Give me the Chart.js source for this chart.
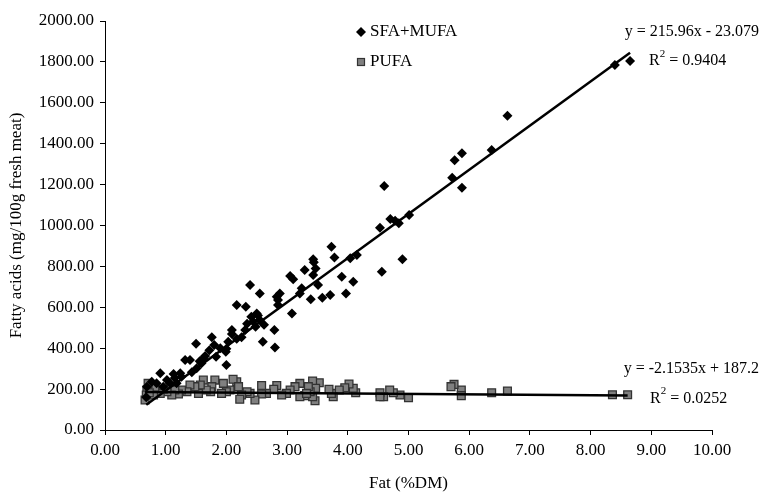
<!DOCTYPE html>
<html>
<head>
<meta charset="utf-8">
<script src="https://cdn.jsdelivr.net/npm/chart.js@4/dist/chart.umd.min.js"></script>
<style>
  body { margin: 0; background: #fff; }
  #wrap { width: 762px; height: 497px; }
</style>
</head>
<body>
<div id="wrap"><canvas id="myChart"></canvas></div>
<script>
// SFA+MUFA points (fat %DM, mg/100g)
var sfaX = [8.40, 8.65, 6.63, 6.37, 5.88, 5.76, 5.72, 5.88, 4.60, 5.01, 4.70, 4.84, 4.78, 4.53, 3.73, 3.78, 4.04, 4.15, 3.43, 4.90,
            4.56, 3.44, 3.29, 3.43, 3.24, 3.51, 3.90, 4.09, 3.97, 3.71, 3.58, 3.39, 3.47, 3.05, 3.10, 3.08, 2.88, 2.83, 2.85, 2.85,
            2.79, 2.80, 2.60, 2.55, 2.39, 2.50, 2.55, 2.44, 2.34, 2.41, 2.31, 2.17, 2.32, 2.25, 2.17, 2.09, 2.09, 2.00, 2.03, 2.00,
            1.99, 1.83, 1.80, 1.76, 1.65, 1.62, 1.59, 1.56, 1.50, 1.51, 1.40, 1.32, 1.43, 1.24, 1.13, 1.15, 1.02, 0.91, 0.85, 0.77,
            0.69, 0.68, 1.18, 1.26, 1.07, 0.96, 3.21, 2.48, 2.52, 2.62, 1.72, 1.90];
var sfaY = [1785, 1804, 1537, 1369, 1353, 1319, 1234, 1185, 1193, 1051, 1032, 1011, 1023, 989, 896, 844, 840, 856, 835, 835,
            774, 820, 782, 758, 693, 709, 750, 725, 668, 660, 647, 639, 790, 753, 737, 570, 668, 652, 636, 611,
            489, 404, 432, 668, 709, 570, 538, 530, 520, 554, 489, 611, 603, 454, 446, 489, 470, 397, 432, 318,
            383, 358, 416, 453, 362, 351, 326, 336, 422, 302, 342, 342, 283, 277, 274, 254, 244, 277, 228, 236,
            212, 160, 228, 261, 228, 212, 668, 505, 560, 515, 390, 400];

// PUFA points
var pufaX = [8.36, 8.61, 6.63, 6.37, 5.87, 5.87, 5.75, 5.70, 5.00, 4.86, 4.75, 4.69, 4.59, 4.53, 4.53, 4.13, 4.09, 4.02, 3.95, 3.86,
             3.76, 3.73, 3.69, 3.53, 3.42, 3.47, 3.46, 3.42, 3.29, 3.21, 3.38, 3.35, 3.32, 3.21, 3.13, 3.05, 2.99, 2.91, 2.83, 2.78,
             2.66, 2.58, 2.58, 2.47, 2.39, 2.34, 2.25, 2.22, 2.17, 2.11, 2.20, 2.06, 2.00, 1.95, 1.92, 1.81, 1.76, 1.74, 1.67, 1.62,
             1.57, 1.54, 1.48, 1.40, 1.35, 1.26, 1.21, 1.15, 1.10, 1.02, 0.96, 0.91, 0.82, 0.80, 0.71, 0.69, 0.68, 0.66, 0.73];
var pufaY = [172, 172, 191, 182, 196, 168, 223, 212, 158, 171, 182, 196, 163, 182, 163, 182, 204, 225, 207, 196,
             163, 179, 199, 231, 240, 204, 143, 163, 168, 163, 187, 212, 179, 228, 212, 196, 179, 171, 218, 199,
             179, 218, 176, 147, 179, 187, 171, 150, 236, 248, 212, 196, 187, 228, 179, 244, 212, 187, 196, 244,
             220, 179, 212, 220, 187, 196, 176, 196, 171, 187, 199, 179, 204, 171, 228, 196, 171, 147, 182];

// trend lines as printed on the chart
var sfaFit = { slope: 215.96, icept: -23.079, label: 'y = 215.96x - 23.079', r2: '0.9404' };
var pufaFit = { slope: -2.1535, icept: 187.2, label: 'y = -2.1535x + 187.2', r2: '0.0252' };

function pts(xs, ys) {
  return xs.map(function (x, i) { return { x: x, y: ys[i] }; });
}
function fitLine(fit, xs) {
  var lo = Math.min.apply(null, xs), hi = Math.max.apply(null, xs);
  return [{ x: lo, y: fit.slope * lo + fit.icept }, { x: hi, y: fit.slope * hi + fit.icept }];
}

var serif = "'Liberation Serif', 'DejaVu Serif', serif";

function drawR2(ctx, x, y, val) {
  ctx.textAlign = 'left';
  ctx.font = '16px ' + serif;
  ctx.fillText('R', x, y);
  var w = ctx.measureText('R').width;
  ctx.font = '11px ' + serif;
  ctx.fillText('2', x + w, y - 7);
  var w2 = ctx.measureText('2').width;
  ctx.font = '16px ' + serif;
  ctx.fillText(' = ' + val, x + w + w2, y);
}

var annotations = {
  id: 'annotations',
  afterDraw: function (chart) {
    var ctx = chart.ctx, a = chart.chartArea, ys = chart.scales.y;
    ctx.save();
    ctx.fillStyle = '#000';
    ctx.textBaseline = 'middle';
    ctx.font = '16px ' + serif;
    ctx.textAlign = 'right';
    ctx.fillText(sfaFit.label, a.right + 47, a.top + 11);
    drawR2(ctx, a.right - 63, a.top + 40, sfaFit.r2);
    ctx.textAlign = 'right';
    ctx.font = '16px ' + serif;
    ctx.fillText(pufaFit.label, a.right + 47, ys.getPixelForValue(300));
    drawR2(ctx, a.right - 62, ys.getPixelForValue(155), pufaFit.r2);

    // legend
    var lx = a.left + 256, l1 = a.top + 11, l2 = a.top + 41;
    ctx.fillStyle = '#000';
    ctx.beginPath();
    ctx.moveTo(lx, l1 - 5); ctx.lineTo(lx + 5, l1); ctx.lineTo(lx, l1 + 5); ctx.lineTo(lx - 5, l1);
    ctx.closePath(); ctx.fill();
    ctx.fillStyle = '#808080';
    ctx.strokeStyle = '#333';
    ctx.lineWidth = 1.2;
    ctx.fillRect(lx - 3.5, l2 - 3.5, 7, 7);
    ctx.strokeRect(lx - 3.5, l2 - 3.5, 7, 7);
    ctx.fillStyle = '#000';
    ctx.textAlign = 'left';
    ctx.font = '17px ' + serif;
    ctx.fillText('SFA+MUFA', lx + 9, l1);
    ctx.fillText('PUFA', lx + 9, l2);
    ctx.restore();
  }
};

var ctx = document.getElementById('myChart').getContext('2d');
var chartData = {
  type: 'scatter',
  data: {
    datasets: [{
      label: 'SFA+MUFA trend',
      type: 'line',
      data: fitLine(sfaFit, sfaX),
      borderColor: '#000',
      borderWidth: 2.5,
      pointRadius: 0,
      fill: false
    }, {
      label: 'PUFA trend',
      type: 'line',
      data: fitLine(pufaFit, pufaX),
      borderColor: '#000',
      borderWidth: 2.5,
      pointRadius: 0,
      fill: false
    }, {
      label: 'SFA+MUFA',
      data: pts(sfaX, sfaY),
      pointStyle: 'rectRot',
      pointRadius: 5,
      backgroundColor: '#000',
      borderColor: '#000',
      borderWidth: 0
    }, {
      label: 'PUFA',
      data: pts(pufaX, pufaY),
      pointStyle: 'rect',
      pointRadius: 5.5,
      backgroundColor: '#808080',
      borderColor: '#333',
      borderWidth: 1.3
    }]
  },
  options: {
    responsive: true,
    maintainAspectRatio: false,
    animation: false,
    layout: { padding: { top: 21, right: 50, bottom: 0, left: 0 } },
    plugins: {
      legend: { display: false },
      tooltip: { enabled: false }
    },
    scales: {
      x: {
        type: 'linear',
        min: 0, max: 10,
        afterFit: function (s) { s.height = 67; },
        border: { color: '#000', width: 1 },
        grid: { drawOnChartArea: false, drawTicks: true, tickLength: 5, color: '#000' },
        ticks: {
          stepSize: 1, color: '#000', padding: 5,
          font: { family: serif, size: 17 },
          callback: function (v) { return v.toFixed(2); }
        },
        title: { display: true, text: 'Fat (%DM)', color: '#000', font: { family: serif, size: 17 }, padding: { top: 0, bottom: 3 } }
      },
      y: {
        min: 0, max: 2000,
        afterFit: function (s) { s.width = 105; },
        border: { color: '#000', width: 1 },
        grid: { drawOnChartArea: false, drawTicks: true, tickLength: 5, color: '#000' },
        ticks: {
          stepSize: 200, color: '#000', padding: 6,
          font: { family: serif, size: 17 },
          callback: function (v) { return v.toFixed(2); }
        },
        title: { display: true, text: 'Fatty acids (mg/100g fresh meat)', color: '#000', font: { family: serif, size: 17 }, padding: { top: 6, bottom: 0 } }
      }
    }
  },
  plugins: [annotations]
};

var myChart = new Chart(ctx, chartData);
</script>
</body>
</html>
